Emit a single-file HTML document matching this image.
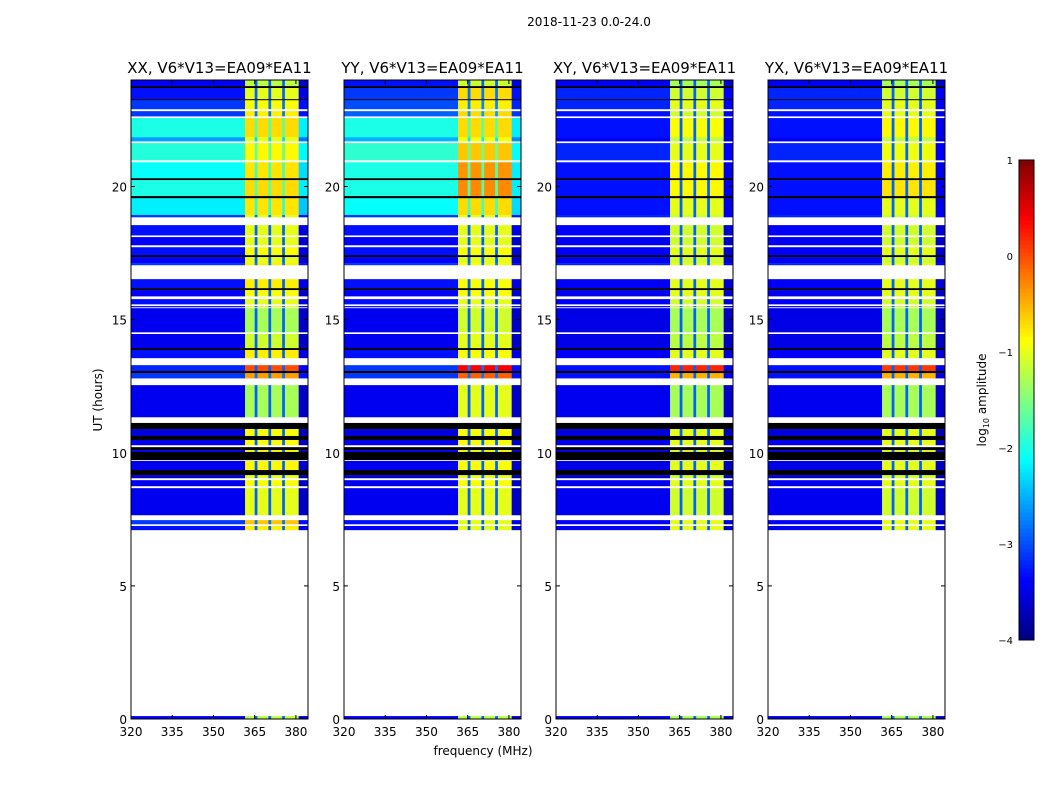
<!DOCTYPE html>
<html><head><meta charset="utf-8"><style>
body{margin:0;background:#fff;}
svg{display:block;font-family:"DejaVu Sans","Liberation Sans",sans-serif;}
</style></head><body>
<svg id="fig" width="1050" height="800" viewBox="0 0 1050 800" xmlns="http://www.w3.org/2000/svg">
<rect width="1050" height="800" fill="#fff"/>
<text x="589" y="26" font-size="12" text-anchor="middle">2018-11-23 0.0-24.0</text>
<text x="102" y="400" font-size="12" text-anchor="middle" transform="rotate(-90 102 400)">UT (hours)</text>
<text x="483" y="755" font-size="12" text-anchor="middle">frequency (MHz)</text>
<g id="panels"></g>
<g id="cbar"></g>
</svg>
<script>
const panelTitles = ["XX, V6*V13=EA09*EA11","YY, V6*V13=EA09*EA11","XY, V6*V13=EA09*EA11","YX, V6*V13=EA09*EA11"];
const xTicks = [320,335,350,365,380];
const yTicks = [0,5,10,15,20];
const cbarTicks = [1,0,-1,-2,-3,-4];
// frequency channel edges (MHz) and channel kinds
const freqEdges = [320,361.5,365,366,370,371,375,376,381,384.4];
const chanKind = ["low","band","line","band","line","band","line","band","edge"];
// time segment boundaries (hours, descending)
const segBounds = [24.0,23.77,23.70,23.28,23.24,22.91,22.83,22.64,22.57,21.85,21.70,21.63,20.99,20.91,20.31,20.24,19.64,19.56,18.93,18.85,18.55,18.17,18.10,17.80,17.72,17.42,17.35,17.12,17.05,16.52,16.18,16.11,15.88,15.77,15.58,15.51,15.47,15.43,14.53,14.46,13.93,13.86,13.56,13.29,13.07,12.99,12.80,12.54,11.34,11.12,10.89,10.63,10.48,10.29,10.21,10.10,10.03,9.73,9.69,9.35,9.16,9.05,8.97,8.75,8.67,7.66,7.47,7.32,7.25,7.10,0.11,0];
const W = null, K = -9;
const lowXX = [-3.4,K,-3.3,K,-3.1,W,-3.1,W,-2.0,-2.6,W,-1.95,W,-2.1,K,-2.0,K,-2.2,-3.1,W,-3.3,W,-3.4,W,-3.3,K,-3.4,-3.1,W,-3.3,K,-3.4,W,-3.3,W,-3.3,W,-3.45,W,-3.45,K,-3.3,W,-3.2,K,-3.1,W,-3.45,W,K,-3.55,K,-3.45,W,K,-3.4,K,W,-3.45,K,-3.55,W,-3.45,W,-3.45,W,-3.1,W,-3.3,W,-3.4];
const bandXX = [-1.2,K,-1.0,K,-0.9,W,-0.8,W,-0.7,-1.0,W,-0.85,W,-0.75,K,-0.7,K,-0.75,-1.0,W,-1.0,W,-1.0,W,-0.9,K,-1.0,-0.8,W,-0.8,K,-0.9,W,-1.0,W,-1.0,W,-1.3,W,-1.1,K,-0.8,W,0.0,K,-0.4,W,-1.3,W,K,-0.9,K,-0.9,W,K,-0.9,K,W,-0.85,K,-1.0,W,-0.9,W,-1.0,W,-0.6,W,-0.8,W,-1.2];
const lowYY = [-3.3,K,-3.1,K,-3.0,W,-2.9,W,-2.0,-2.5,W,-1.9,W,-2.0,K,-2.0,K,-2.1,-3.1,W,-3.3,W,-3.4,W,-3.3,K,-3.4,-3.1,W,-3.3,K,-3.4,W,-3.3,W,-3.3,W,-3.45,W,-3.45,K,-3.3,W,-3.1,K,-3.1,W,-3.45,W,K,-3.55,K,-3.45,W,K,-3.4,K,W,-3.45,K,-3.55,W,-3.45,W,-3.45,W,-3.3,W,-3.4,W,-3.4];
const bandYY = [-1.1,K,-0.7,K,-0.8,W,-0.7,W,-0.7,-0.9,W,-0.6,W,-0.35,K,-0.3,K,-0.7,-1.0,W,-1.0,W,-1.0,W,-0.9,K,-1.0,-0.9,W,-0.9,K,-0.9,W,-1.0,W,-1.0,W,-1.1,W,-1.0,K,-0.9,W,0.4,K,-0.1,W,-1.0,W,K,-0.9,K,-0.9,W,K,-0.9,K,W,-0.9,K,-1.0,W,-0.9,W,-1.0,W,-1.0,W,-1.0,W,-1.2];
const lowXY = [-3.4,K,-3.2,K,-3.2,W,-3.3,W,-3.3,-3.4,W,-3.2,W,-3.3,K,-3.3,K,-3.3,-3.2,W,-3.4,W,-3.45,W,-3.4,K,-3.45,-3.2,W,-3.4,K,-3.45,W,-3.4,W,-3.4,W,-3.5,W,-3.5,K,-3.4,W,-3.3,K,-3.3,W,-3.45,W,K,-3.55,K,-3.45,W,K,-3.45,K,W,-3.5,K,-3.55,W,-3.45,W,-3.45,W,-3.4,W,-3.45,W,-3.45];
const bandXY = [-1.3,K,-1.1,K,-1.0,W,-1.1,W,-0.9,-1.2,W,-1.0,W,-0.85,K,-0.85,K,-1.0,-1.1,W,-1.1,W,-1.1,W,-1.0,K,-1.1,-1.0,W,-1.0,K,-1.0,W,-1.1,W,-1.1,W,-1.3,W,-1.2,K,-1.0,W,0.2,K,-0.5,W,-1.3,W,K,-1.0,K,-1.0,W,K,-1.0,K,W,-1.0,K,-1.1,W,-1.0,W,-1.1,W,-1.0,W,-1.0,W,-1.3];
const lowYX = lowXY.slice();
const bandYX = [-1.3,K,-1.1,K,-1.0,W,-1.0,W,-0.85,-1.2,W,-0.95,W,-0.8,K,-0.75,K,-1.0,-1.1,W,-1.1,W,-1.1,W,-1.0,K,-1.1,-1.0,W,-1.0,K,-1.0,W,-1.1,W,-1.1,W,-1.3,W,-1.2,K,-1.0,W,0.1,K,-0.5,W,-1.3,W,K,-1.0,K,-1.0,W,K,-1.0,K,W,-1.0,K,-1.1,W,-1.0,W,-1.1,W,-1.0,W,-1.0,W,-1.3];
const lowVals = [lowXX,lowYY,lowXY,lowYX];
const bandVals = [bandXX,bandYY,bandXY,bandYX];

const NS="http://www.w3.org/2000/svg";
const panelX0=[131,344,556,768], PW=177, PT=80, PB=719;
const fMin=320, fMax=384.4, tMin=0, tMax=24;
function jet(v){
  if(v<=-8) return "#000";
  let x=(v+4)/5; x=Math.max(0,Math.min(1,x));
  const c=a=>Math.round(255*Math.max(0,Math.min(1,a)));
  return `rgb(${c(1.5-Math.abs(4*x-3))},${c(1.5-Math.abs(4*x-2))},${c(1.5-Math.abs(4*x-1))})`;
}
function mk(tag,attrs,parent){const e=document.createElementNS(NS,tag);for(const k in attrs)e.setAttribute(k,attrs[k]);parent.appendChild(e);return e;}
const panels=document.getElementById('panels');
for(let p=0;p<4;p++){
  const x0=panelX0[p];
  const xs=f=>x0+(f-fMin)/(fMax-fMin)*PW;
  const ys=t=>PB-(t-tMin)/(tMax-tMin)*(PB-PT);
  const g=mk('g',{},panels);
  
  
  const hm=mk('g',{},g);
  
  
  for(let s=0;s<segBounds.length-1;s++){
    const lo=lowVals[p][s], bd=bandVals[p][s];
    if(lo===null) continue;
    const y1=ys(segBounds[s]), y2=ys(segBounds[s+1]);
    for(let c=0;c<chanKind.length;c++){
      let v;
      if(lo===K) v=K;
      else if(chanKind[c]==="low") v=lo;
      else if(chanKind[c]==="band") v=bd;
      else if(chanKind[c]==="line") v=Math.max(lo,-3.2)+0.3;
      else v=lo-0.2;
      const r=mk('rect',{x:xs(freqEdges[c]).toFixed(2),y:y1.toFixed(2),width:(xs(freqEdges[c+1])-xs(freqEdges[c])+0.3).toFixed(2),height:(y2-y1+0.2).toFixed(2),fill:jet(v)},hm);
      
      
    }
  }
  const fr=mk('rect',{x:x0,y:PT,width:PW,height:PB-PT,fill:'none',stroke:'#000','stroke-width':1},g);
  
  
  const tt=mk('text',{x:x0+PW/2,y:73,'font-size':15,'text-anchor':'middle'},g);
  tt.textContent=panelTitles[p];
  
  
  xTicks.forEach(f=>{
    const x=xs(f);
    mk('line',{x1:x,y1:PB,x2:x,y2:PB-4,stroke:'#000'},g);
    mk('line',{x1:x,y1:PT,x2:x,y2:PT+4,stroke:'#000'},g);
    const t=mk('text',{x:x,y:PB+17,'font-size':12,'text-anchor':'middle'},g);
    t.textContent=f;
    
    
  });
  yTicks.forEach(h=>{
    const y=ys(h);
    mk('line',{x1:x0,y1:y,x2:x0+4,y2:y,stroke:'#000'},g);
    mk('line',{x1:x0+PW,y1:y,x2:x0+PW-4,y2:y,stroke:'#000'},g);
    const t=mk('text',{x:x0-4,y:y+5,'font-size':12,'text-anchor':'end'},g);
    t.textContent=h;
    
    
  });
}
// colorbar
const cb=document.getElementById('cbar');


const CX=1019,CW=15,CT=160,CB=640,vMax=1,vMin=-4;
const cy=v=>CB-(v-vMin)/(vMax-vMin)*(CB-CT);
for(let i=0;i<120;i++){
  const v=vMin+(i+0.5)*(vMax-vMin)/120;
  const y=cy(vMin+(i+1)*(vMax-vMin)/120);
  mk('rect',{x:CX,y:y.toFixed(2),width:CW,height:((CB-CT)/120+0.5).toFixed(2),fill:jet(v)},cb);
}
mk('rect',{x:CX,y:CT,width:CW,height:CB-CT,fill:'none',stroke:'#000'},cb);
cbarTicks.forEach(v=>{
  const y=cy(v);
  const t=mk('text',{x:CX-6,y:y+4,'font-size':10,'text-anchor':'end'},cb);
  t.textContent=v<0?'\u2212'+Math.abs(v):String(v);
  
  
});
const cl=mk('text',{x:986,y:400,'font-size':12,'text-anchor':'middle',transform:'rotate(-90 986 400)'},cb);
cl.innerHTML='log<tspan font-size="8" dy="3">10</tspan><tspan dy="-3"> amplitude</tspan>';


</script>
</body></html>
